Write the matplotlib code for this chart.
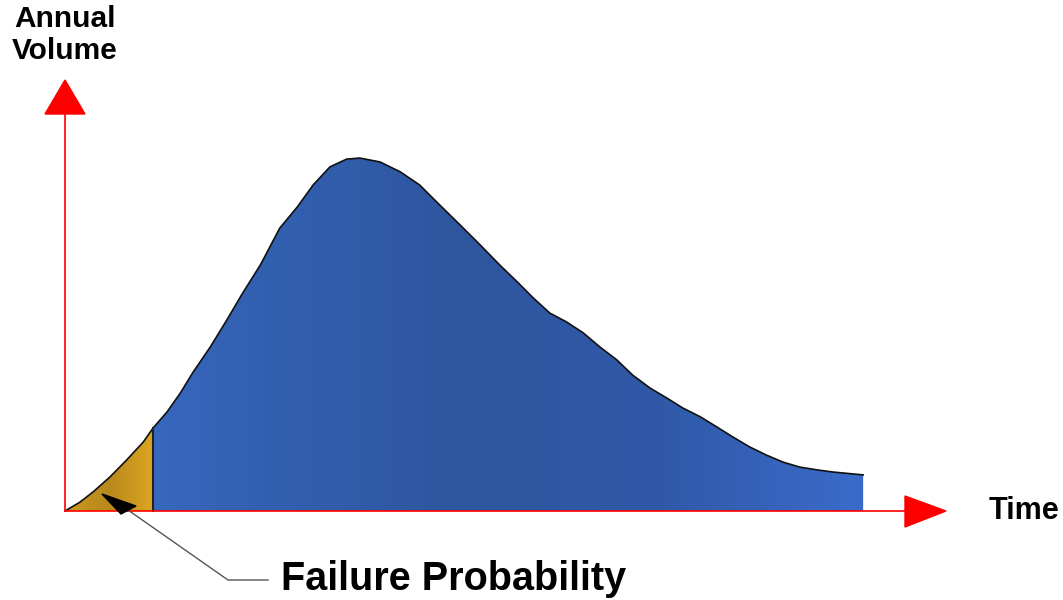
import numpy as np
import matplotlib
matplotlib.use("Agg")
import matplotlib.pyplot as plt
from matplotlib.colors import LinearSegmentedColormap
from matplotlib.patches import Polygon

plt.rcParams["font.family"] = ["Liberation Sans", "DejaVu Sans"]

# product life-cycle curve (time vs annual volume)
time = [0.0, 0.17, 0.32, 0.51, 0.70, 0.89, 1.00, 1.16, 1.31, 1.45, 1.65,
        1.84, 2.02, 2.22, 2.44, 2.64, 2.82, 3.01, 3.20, 3.35, 3.58, 3.81,
        4.03, 4.26, 4.49, 4.72, 4.94, 5.14, 5.32, 5.51, 5.70, 5.89, 6.08,
        6.27, 6.45, 6.65, 6.84, 7.02, 7.22, 7.41, 7.59, 7.78, 7.97, 8.16,
        8.35, 8.55, 8.73, 9.07]
volume = [0.0, 0.25, 0.54, 0.96, 1.44, 1.95, 2.34, 2.80, 3.33, 3.90, 4.63,
          5.40, 6.16, 6.95, 7.99, 8.59, 9.21, 9.72, 9.94, 9.97, 9.86, 9.58,
          9.21, 8.64, 8.08, 7.51, 6.95, 6.47, 6.02, 5.59, 5.34, 5.03, 4.63,
          4.27, 3.84, 3.47, 3.19, 2.91, 2.66, 2.37, 2.09, 1.81, 1.58, 1.38,
          1.24, 1.16, 1.10, 1.02]
failure_cut = 1.00          # end of the early-failure region
axis_len = [10.0, 12.18]    # x / y arrow tips

W, H = 1063, 600
fig = plt.figure(figsize=(W / 100, H / 100), dpi=100)
ax = fig.add_axes([0, 0, 1, 1])
# 1 time unit = 88 px, 1 volume unit = 35.4 px, origin at pixel (65, 511)
ax.set_xlim(-65 / 88, (W - 65) / 88)
ax.set_ylim((511 - H) / 35.4, 511 / 35.4)
ax.axis("off")


def fig_xy(x, y):
    return x / W, 1 - y / H


t = np.array(time)
v = np.array(volume)
k = int(np.searchsorted(t, failure_cut))

# blue main area
blue = Polygon(np.column_stack([np.r_[t[k:], t[-1], t[k]], np.r_[v[k:], 0, 0]]),
               closed=True, facecolor="none", edgecolor="none")
ax.add_patch(blue)
cm_blue = LinearSegmentedColormap.from_list(
    "b", ["#3b6dca", "#3260b0", "#2e569f", "#3059a8", "#3b6bca"])
grad = np.linspace(0, 1, 256)[None, :]
im = ax.imshow(grad, cmap=cm_blue, aspect="auto", extent=[0, t[-1], 0, v.max()],
               zorder=2)
im.set_clip_path(blue)

# gold failure area
gold = Polygon(np.column_stack([np.r_[t[:k + 1], t[k]], np.r_[v[:k + 1], 0]]),
               closed=True, facecolor="none", edgecolor="none")
ax.add_patch(gold)
cm_gold = LinearSegmentedColormap.from_list("g", ["#c99a22", "#b8881c", "#dca622"])
im2 = ax.imshow(grad, cmap=cm_gold, aspect="auto", extent=[0, t[k], 0, v[k]],
                zorder=2)
im2.set_clip_path(gold)

ax.plot(t, v, color="#111111", lw=1.2, zorder=3, solid_joinstyle="round")
ax.plot([t[k], t[k]], [0, v[k]], color="#222222", lw=1.5, zorder=3)

# red axes with triangle heads
ax.plot([0, axis_len[0] - 0.4], [0, 0], color="red", lw=1.2, zorder=4)
ax.plot([0, 0], [0, axis_len[1] - 0.9], color="red", lw=1.2, zorder=4)
fig.patches.append(Polygon([fig_xy(905, 496), fig_xy(905, 527), fig_xy(946, 511)],
                           closed=True, transform=fig.transFigure, color="red"))
fig.patches.append(Polygon([fig_xy(45, 114), fig_xy(85, 114), fig_xy(65, 80)],
                           closed=True, transform=fig.transFigure, color="red"))

# labels
fig.text(*fig_xy(65, 35), "Annual\nVolume", ha="center", va="center",
         fontsize=21.5, fontweight="bold", linespacing=1.2)
fig.text(*fig_xy(989, 511), "Time", ha="left", va="center",
         fontsize=22, fontweight="bold")
fig.text(*fig_xy(281, 579), "Failure Probability", ha="left", va="center",
         fontsize=28.5, fontweight="bold")

# leader line + arrow to failure area
lx, ly = zip(fig_xy(268, 580), fig_xy(228, 580), fig_xy(128, 510))
fig.add_artist(plt.Line2D(lx, ly, transform=fig.transFigure, color="#555555", lw=1))
fig.patches.append(Polygon([fig_xy(102, 494), fig_xy(121, 514), fig_xy(136, 506)],
                           closed=True, transform=fig.transFigure, color="black",
                           zorder=5))

fig.savefig("out.png", dpi=100, facecolor="white")
